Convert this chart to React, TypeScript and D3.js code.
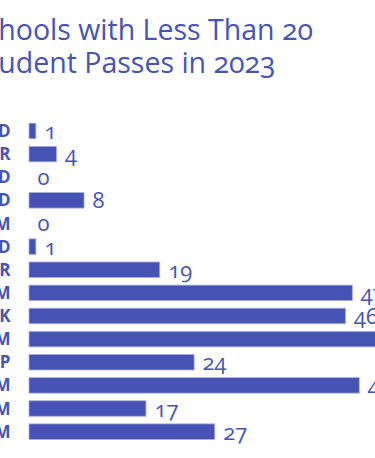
import React from "react";
import * as d3 from "d3";

const categories = ["D", "R", "D", "D", "M", "D", "R", "M", "K", "M", "P", "M", "M", "M"];
const values = [1, 4, 0, 8, 0, 1, 19, 47, 46, 53, 24, 48, 17, 27];
const titleLines = ["Schools with Less Than 20", "Student Passes in 2023"];

const W = 375;
const H = 458;
const COLOR = "#4753b4";

export default function App() {
  const x = d3.scaleLinear().domain([0, 50]).range([29, 29 + 6.88 * 50]);
  const y = d3
    .scaleBand<number>()
    .domain(d3.range(categories.length))
    .range([119.4, 443.2])
    .paddingInner(0.33)
    .paddingOuter(0.165);
  const bw = y.bandwidth();
  const font = "'Open Sans', sans-serif";
  return (
    <svg
      width={W}
      height={H}
      style={{ position: "absolute", left: 0, top: 0, background: "#fff" }}
    >
      <text
        fill={COLOR}
        fontFamily={font}
        fontSize={28.5}
        style={{ fontVariantNumeric: "oldstyle-nums" }}
      >
        <tspan x={-31} y={40}>{titleLines[0]}</tspan>
        <tspan x={-27.5} y={73}>{titleLines[1]}</tspan>
      </text>
      {categories.map((c, i) => (
        <text
          key={"c" + i}
          x={10.5}
          y={(y(i) as number) + bw / 2}
          dy="0.36em"
          textAnchor="end"
          fill={COLOR}
          fontFamily={font}
          fontWeight={700}
          fontSize={17}
        >
          {c}
        </text>
      ))}
      {values.map((v, i) => (
        <rect
          key={"b" + i}
          x={x(0)}
          y={y(i)}
          width={Math.max(0, x(v) - x(0))}
          height={bw}
          fill={COLOR}
          stroke="#a9aee0"
          strokeWidth={v > 0 ? 0.8 : 0}
        />
      ))}
      {values.map((v, i) => (
        <text
          key={"v" + i}
          x={x(v) + 8.5}
          y={(y(i) as number) + bw / 2 + 8}
          fill={COLOR}
          fontFamily={font}
          fontWeight={400}
          fontSize={22}
          style={{ fontVariantNumeric: "oldstyle-nums" }}
        >
          {v}
        </text>
      ))}
    </svg>
  );
}
